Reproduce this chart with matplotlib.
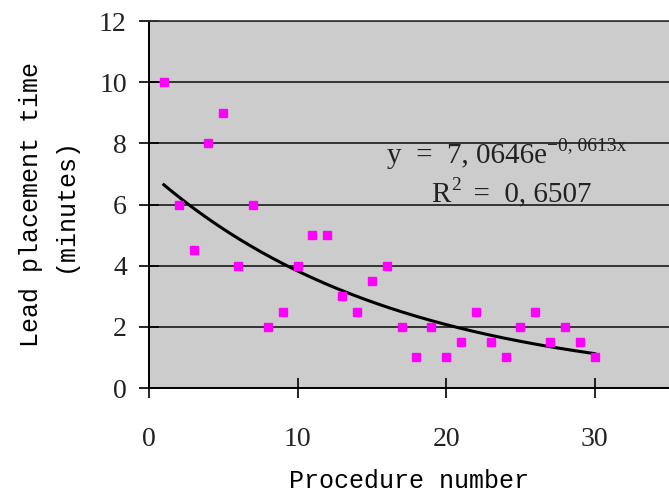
import numpy as np
import matplotlib

matplotlib.use("Agg")
import matplotlib.pyplot as plt

# procedure number vs. lead placement time (minutes)
procedure = [1, 2, 3, 4, 5, 6, 7, 8, 9, 10, 11, 12, 13, 14, 15,
             16, 17, 18, 19, 20, 21, 22, 23, 24, 25, 26, 27, 28, 29, 30]
lead_time = [10, 6, 4.5, 8, 9, 4, 6, 2, 2.5, 4, 5, 5, 3, 2.5, 3.5,
             4, 2, 1, 2, 1, 1.5, 2.5, 1.5, 1, 2, 2.5, 1.5, 2, 1.5, 1]

# exponential trendline coefficients as printed on the chart
fit_a = 7.0646
fit_b = -0.0613

x_ticks = [0, 10, 20, 30]
y_ticks = [0, 2, 4, 6, 8, 10, 12]

fig = plt.figure(figsize=(6.69, 4.94), dpi=100)
ax = fig.add_axes([149 / 669, (494 - 388) / 494, (669 - 149) / 669, (388 - 21) / 494])
ax.set_facecolor("#cccccc")

xs = np.linspace(procedure[0], procedure[-1], 200)
ax.plot(xs, fit_a * np.exp(fit_b * xs), color="black", linewidth=2.2, zorder=3)
ax.plot(procedure, lead_time, linestyle="none", marker="s", markersize=6,
        color="#ff00ff", zorder=4)

ax.set_xlim(0, 35)
ax.set_ylim(0, 12)
ax.set_xticks(x_ticks)
ax.set_yticks(y_ticks)
ax.yaxis.grid(True, color="#1a1a1a", linewidth=1.2)
ax.set_axisbelow(True)

ax.spines["right"].set_visible(False)
ax.spines["top"].set_color("#333333")
ax.spines["top"].set_linewidth(1.2)
ax.spines["left"].set_linewidth(1.4)
ax.spines["bottom"].set_linewidth(1.4)

ax.tick_params(axis="both", direction="inout", length=14, width=1.2,
               labelsize=20)
ax.tick_params(axis="x", pad=21)
ax.tick_params(axis="y", pad=9)
for lab in ax.get_xticklabels() + ax.get_yticklabels():
    lab.set_fontfamily("Liberation Serif")
    lab.set_color("#222222")

ax.set_xlabel("Procedure number", family="Liberation Mono", fontsize=18,
              labelpad=12)
ax.set_ylabel("Lead placement time\n(minutes)", family="Liberation Mono",
              fontsize=18, linespacing=1.5, labelpad=16)

eq = ax.text(16.05, 7.57, "y  =  7, 0646e", family="Liberation Serif",
             fontsize=21, va="center", color="#222222")
ax.annotate("\u22120, 0613x", xy=(1.0, 0.9), xycoords=eq, ha="left",
            va="center", family="Liberation Serif", fontsize=14,
            color="#222222")
r2 = ax.text(19.0, 6.32, "R", family="Liberation Serif", fontsize=21,
             va="center", color="#222222")
ax.annotate("2", xy=(1.0, 0.85), xycoords=r2, ha="left", va="center",
            family="Liberation Serif", fontsize=14, color="#222222")
ax.annotate("  =  0, 6507", xy=(1.0, 0.5), xycoords=r2, xytext=(6, 0),
            textcoords="offset points", ha="left", va="center",
            family="Liberation Serif", fontsize=21, color="#222222")

fig.savefig("out.png", dpi=100)
plt.close(fig)
